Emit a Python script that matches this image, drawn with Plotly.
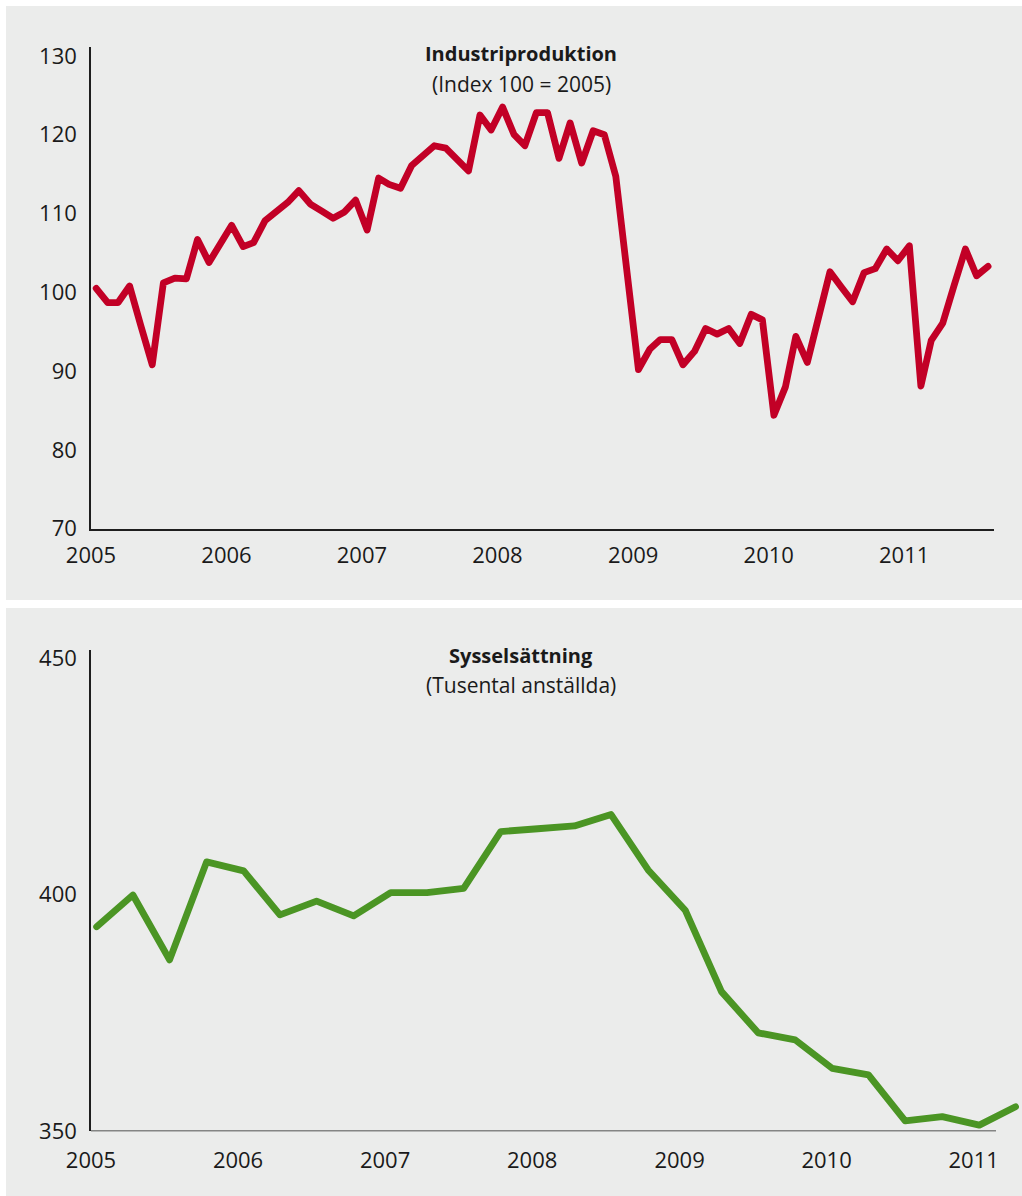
import pandas as pd
import plotly.graph_objects as go

# Industriproduktion, index 100 = 2005, monthly Jan 2005 - Aug 2011
prod_months = pd.date_range("2005-01-01", periods=80, freq="MS") + pd.Timedelta(days=14)
prod_values = [
    100.5, 98.7, 98.7, 100.8, 95.8, 90.8, 101.2, 101.8, 101.7, 106.7, 103.8, 106.2,
    108.5, 105.8, 106.3, 109.1, 110.2, 111.4, 112.9, 111.2, 110.3, 109.4, 110.2, 111.7,
    107.9, 114.5, 113.7, 113.2, 116.1, 117.4, 118.6, 118.3, 116.8, 115.4, 122.5, 120.6,
    123.5, 120.0, 118.6, 122.8, 122.8, 117.0, 121.5, 116.4, 120.5, 120.0, 114.7, 103.0,
    90.2, 92.8, 94.0, 94.0, 90.8, 92.5, 95.4, 94.7, 95.4, 93.5, 97.2, 96.5,
    84.4, 88.0, 94.4, 91.1, 96.9, 102.6, 100.7, 98.8, 102.5, 103.0, 105.5, 104.0,
    105.9, 88.1, 93.9, 96.1, 100.8, 105.5, 102.1, 103.3,
]

# Sysselsättning, thousands employed, quarterly 2005 Q1 - 2011 Q2
emp_quarters = pd.date_range("2005-01-01", periods=26, freq="QS") + pd.Timedelta(days=14)
emp_values = [
    393.2, 399.9, 386.2, 406.9, 405.0, 395.7, 398.6, 395.5, 400.4, 400.4, 401.3, 413.3,
    413.9, 414.5, 416.9, 405.2, 396.7, 379.5, 370.8, 369.3, 363.3, 361.9, 352.2, 353.1,
    351.3, 355.2,
]

year_ticks = [f"{y}-01-01" for y in range(2005, 2012)]
year_labels = [str(y) for y in range(2005, 2012)]
prod_yticks = [70, 80, 90, 100, 110, 120, 130]
emp_yticks = [350, 400, 450]

RED = "#c20026"
GREEN = "#4b9524"
PANEL = "#ebeceb"
AXIS = "#1e1e1e"
TEXT = "#1a1a1a"
FONT = "Open Sans"

W, H = 1022, 1196


def px_x(p):
    return p / W


def px_y(p):
    return 1 - p / H


fig = go.Figure()

fig.add_trace(go.Scatter(
    x=prod_months, y=prod_values, mode="lines",
    line=dict(color=RED, width=6.8), xaxis="x", yaxis="y",
    hoverinfo="skip", showlegend=False,
))
fig.add_trace(go.Scatter(
    x=emp_quarters, y=emp_values, mode="lines",
    line=dict(color=GREEN, width=6.8), xaxis="x2", yaxis="y2",
    hoverinfo="skip", showlegend=False,
))

tick_font = dict(family=FONT, size=22, color=TEXT)
common = dict(showgrid=False, zeroline=False, ticks="", automargin=False,
              tickfont=tick_font)

fig.update_layout(
    width=W, height=H,
    margin=dict(l=0, r=0, t=0, b=0, pad=0, autoexpand=False),
    paper_bgcolor="white",
    plot_bgcolor="rgba(0,0,0,0)",
    font=dict(family=FONT, color=TEXT),
    xaxis=dict(
        type="date", domain=[px_x(91), px_x(994)],
        range=["2005-01-01", "2011-08-31"],
        tickvals=year_ticks, ticktext=year_labels,
        showline=True, linecolor=AXIS, linewidth=1.5,
        ticklabelstandoff=6, anchor="y", **common,
    ),
    yaxis=dict(
        domain=[px_y(528.7), px_y(47)],
        range=[70, 131.13],
        tickvals=prod_yticks,
        showline=True, linecolor=AXIS, linewidth=1.5,
        ticklabelstandoff=8, anchor="x", **common,
    ),
    xaxis2=dict(
        type="date", domain=[px_x(91), 1.0],
        range=["2005-01-01", "2011-05-01"],
        tickvals=year_ticks, ticktext=year_labels,
        showline=False,
        ticklabelstandoff=14, anchor="y2", **common,
    ),
    yaxis2=dict(
        domain=[px_y(1131.3), px_y(650)],
        range=[350, 451.65],
        tickvals=emp_yticks,
        showline=True, linecolor=AXIS, linewidth=1.5,
        ticklabelstandoff=8, anchor="x2", **common,
    ),
)

# Grey panels behind each chart
fig.add_shape(type="rect", xref="paper", yref="paper", layer="below",
              x0=px_x(6), x1=1, y0=px_y(600), y1=px_y(6),
              fillcolor=PANEL, line=dict(width=0))
fig.add_shape(type="rect", xref="paper", yref="paper", layer="below",
              x0=px_x(6), x1=1, y0=0, y1=px_y(608),
              fillcolor=PANEL, line=dict(width=0))

# Baseline of the lower chart stops short of the last data point
fig.add_shape(type="line", xref="paper", yref="y2",
              x0=px_x(91), x1=px_x(996), y0=350, y1=350,
              line=dict(color=AXIS, width=1.5))

titles = [
    ("<b>Industriproduktion</b>", 54, 20),
    ("(Index 100 = 2005)", 84, 21),
    ("<b>Sysselsättning</b>", 655, 20),
    ("(Tusental anställda)", 685, 21),
]
for text, ypix, size in titles:
    fig.add_annotation(
        text=text, xref="paper", yref="paper",
        x=px_x(521), y=px_y(ypix), xanchor="center", yanchor="middle",
        showarrow=False, font=dict(family=FONT, size=size, color=TEXT),
    )

page_style = (
    "var s=document.createElement('style');"
    "s.innerHTML='html,body{margin:0!important;padding:0!important;overflow:hidden!important;}"
    ".js-line{stroke-linejoin:round!important;stroke-linecap:round!important;}';"
    "document.head.appendChild(s);"
)
fig.write_html("out.html", post_script=page_style)
